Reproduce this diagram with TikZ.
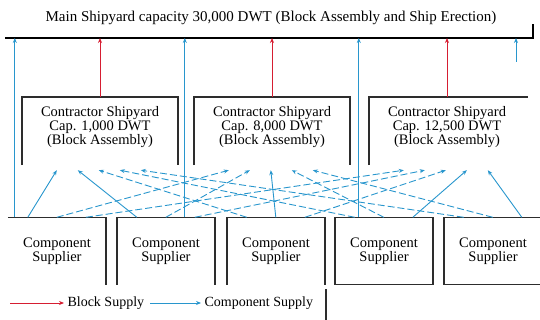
\documentclass[tikz,border=0pt]{standalone}
\usepackage{fontspec}
\setmainfont{Liberation Serif}
\usetikzlibrary{arrows.meta}

\definecolor{blockred}{RGB}{214,30,50}
\definecolor{compblue}{RGB}{40,150,205}
\definecolor{framegray}{RGB}{45,45,45}

\tikzset{
    frame/.style={draw=framegray, line width=1.5pt},
    blocksupply/.style={blockred, line width=1pt, -{Stealth[length=5pt,width=4pt]}},
    compsupply/.style={compblue, line width=0.9pt, -{Stealth[length=5pt,width=4pt]}},
    nearsup/.style={solid},
    farsup/.style={dash pattern=on 7pt off 3pt},
    yard/.style={minimum width=156pt, minimum height=60pt, align=center, inner sep=0pt,
        font=\fontsize{14.5}{14}\selectfont},
    supplier/.style={minimum width=98pt, minimum height=67pt, align=center, inner sep=0pt,
        font=\fontsize{14.5}{14}\selectfont},
}

\begin{document}
\begin{tikzpicture}[x=1pt, y=-1pt]
    \useasboundingbox (0,0) rectangle (540,320);

    % main shipyard
    \node[font=\fontsize{15}{14}\selectfont] (main) at (271,18)
        {Main Shipyard capacity 30,000 DWT (Block Assembly and Ship Erection)};
    \coordinate (mainbase) at (269,38);
    \draw[frame, draw=black] (5,38) -- (533,38) -- (533,24);

    % contractor shipyards
    \node[yard] (c1) at (100,127) {Contractor Shipyard\\Cap. 1,000 DWT\\(Block Assembly)};
    \node[yard] (c2) at (272,127) {Contractor Shipyard\\Cap. 8,000 DWT\\(Block Assembly)};
    \node[yard] (c3) at (447,127) {Contractor Shipyard\\Cap. 12,500 DWT\\(Block Assembly)};
    \foreach \c in {1, 2} {
        \draw[frame] ([yshift=-8pt]c\c.south west) |- (c\c.north east) -- ([yshift=-8pt]c\c.south east);
    }
    \draw[frame] ([yshift=-8pt]c3.south west) |- ([xshift=3pt]c3.north east);

    % component suppliers
    \foreach \s/\x in {1/57, 2/166, 3/276, 4/384, 5/493} {
        \node[supplier] (s\s) at (\x,251) {Component\\Supplier};
    }
    \draw[frame] (s1.north west) -- (s1.north east) -- (s1.south east);
    \foreach \s in {2, 3} {
        \draw[frame] (s\s.south west) |- (s\s.north east) -- (s\s.south east);
    }
    \foreach \s in {4, 5} {
        \draw[frame] (s\s.north west) rectangle (s\s.south east);
    }

    % block supply
    \foreach \c in {1, 2, 3} {
        \draw[blocksupply] (c\c.north) -- (c\c.north |- mainbase);
    }

    % component supply straight to the main shipyard
    \foreach \s/\dx in {1/7, 2/68, 4/24} {
        \draw[compsupply] ([xshift=\dx pt]s\s.north west) -- ([xshift=\dx pt]s\s.north west |- mainbase);
    }
    \coordinate (stub) at (516,62);
    \draw[compsupply] (stub) -- (stub |- mainbase);

    % component supply to the contractors
    \foreach \s/\c/\pat in {1/1/nearsup, 1/2/farsup, 1/3/farsup,
                            2/1/nearsup, 2/2/farsup, 2/3/farsup,
                            3/1/farsup, 3/2/nearsup, 3/3/farsup,
                            4/1/farsup, 4/2/farsup, 4/3/nearsup,
                            5/1/farsup, 5/2/farsup, 5/3/nearsup} {
        \pgfmathsetmacro{\sx}{20 + 29*(\c-1)}
        \pgfmathsetmacro{\cx}{35 + 21*(\s-1)}
        \draw[compsupply, \pat]
            ([xshift=\sx pt]s\s.north west) -- ([xshift=\cx pt, yshift=-13pt]c\c.south west);
    }

    % legend
    \coordinate (legblock) at (10,303);
    \coordinate (legcomp) at (150,303);
    \node[anchor=west, font=\fontsize{14}{14}\selectfont] (lblock) at (64,303) {Block Supply};
    \node[anchor=west, font=\fontsize{14}{14}\selectfont] (lcomp) at (201,303) {Component Supply};
    \draw[blocksupply] (legblock) -- (lblock.west);
    \draw[compsupply] (legcomp) -- (lcomp.west);
    \draw[frame] (326,289) -- (326,320);
\end{tikzpicture}
\end{document}
